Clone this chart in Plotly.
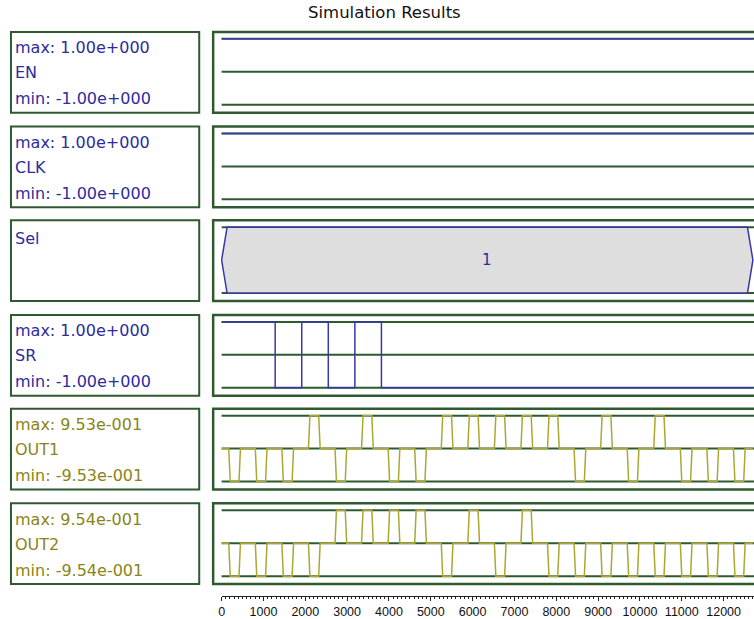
import plotly.graph_objects as go

# ---------------- data ----------------
title_text = "Simulation Results"
signal_names = ["EN", "CLK", "Sel", "SR", "OUT1", "OUT2"]
max_labels = ["max: 1.00e+000", "max: 1.00e+000", None, "max: 1.00e+000", "max: 9.53e-001", "max: 9.54e-001"]
min_labels = ["min: -1.00e+000", "min: -1.00e+000", None, "min: -1.00e+000", "min: -9.53e-001", "min: -9.54e-001"]
signal_max = [1.0, 1.0, 1.0, 1.0, 0.953, 0.954]

sim_end = 12700

en_times = [0, 12700]
en_values = [1, 1]

clk_times = [0, 12700]
clk_values = [1, 1]

sel_times = [0, 12700]
sel_values = ["1"]

sr_times = [0, 1280, 1915, 2550, 3185, 3820, 12700]
sr_values = [1, -1, 1, -1, 1, -1, -1]

pulse_starts = [170, 805, 1440, 2075, 2710, 3345, 3980, 4615, 5250, 5885,
                6520, 7155, 7790, 8425, 9060, 9695, 10330, 10965, 11600, 12235]
pulse_width = 280
pulse_edge = 35
out1_polarity = [-1, -1, -1, 1, -1, 1, -1, -1, 1, 1, 1, 1, 1, -1, 1, -1, 1, -1, -1, -1]
out2_polarity = [-1, -1, -1, -1, 1, 1, 1, 1, -1, 1, -1, 1, -1, -1, -1, -1, -1, -1, -1, -1]

tick_values = list(range(0, 13000, 1000))
tick_labels = [str(v) for v in tick_values]

# ---------------- style / layout ----------------
W, H = 754, 619
GREEN = "#2f5a2f"
BLUE = "#3838aa"
BLUE_TXT = "#2c2c9c"
OLIVE = "#aaa832"
OLIVE_TXT = "#8a8416"
GRAY = "#dedede"
LABEL_FONT = "DejaVu Sans"

box_tops = [32, 127, 221, 316, 410, 505]
box_h = 81
px_per_unit = 0.042
x0_px = 219.5


def py(p):
    return 1 - p / H


def px(p):
    return p / W


x_range = [(212 - x0_px) / px_per_unit, (W - x0_px) / px_per_unit]

fig = go.Figure()
shapes = []
annotations = []
layout_axes = {}

for i, name in enumerate(signal_names):
    r = i + 1
    top = box_tops[i]
    m = signal_max[i]
    top_line = top + 7
    bot_line = top + 73
    upp = 2 * m / (bot_line - top_line)
    y_lo = -m - ((top + 79) - bot_line) * upp
    y_hi = m + (top_line - (top + 2)) * upp
    xa = "xaxis" if r == 1 else f"xaxis{r}"
    ya = "yaxis" if r == 1 else f"yaxis{r}"
    xr = "x" if r == 1 else f"x{r}"
    yr = "y" if r == 1 else f"y{r}"
    layout_axes[xa] = dict(domain=[px(212), 1], range=x_range, visible=False,
                           anchor=yr, fixedrange=True)
    layout_axes[ya] = dict(domain=[py(top + 79), py(top + 2)], range=[y_lo, y_hi],
                           visible=False, anchor=xr, fixedrange=True)

    # frames
    shapes.append(dict(type="rect", xref="paper", yref="paper",
                       x0=px(8), x1=px(197), y0=py(top + box_h), y1=py(top),
                       line=dict(color=GREEN, width=2), layer="below"))
    shapes.append(dict(type="rect", xref="paper", yref="paper",
                       x0=px(211), x1=px(780), y0=py(top + box_h), y1=py(top),
                       line=dict(color=GREEN, width=2.5), layer="below"))

    # reference lines
    levels = [m, -m] if name == "Sel" else [m, 0, -m]
    for lv in levels:
        shapes.append(dict(type="line", xref=xr, yref=yr, x0=0, x1=x_range[1],
                           y0=lv, y1=lv, line=dict(color=GREEN, width=2), layer="below"))

    txt_color = OLIVE_TXT if name.startswith("OUT") else BLUE_TXT
    if name == "Sel":
        annotations.append(dict(xref="paper", yref="paper", x=px(10), y=py(top + 18),
                                text=name, showarrow=False, xanchor="left", yanchor="middle",
                                font=dict(family=LABEL_FONT, size=16, color=txt_color)))
    else:
        for txt, off in [(max_labels[i], 16), (name, 41), (min_labels[i], 67)]:
            annotations.append(dict(xref="paper", yref="paper", x=px(10), y=py(top + off),
                                    text=txt, showarrow=False, xanchor="left", yanchor="middle",
                                    font=dict(family=LABEL_FONT, size=16, color=txt_color)))

    # signals
    if name in ("EN", "CLK", "SR"):
        t = {"EN": en_times, "CLK": clk_times, "SR": sr_times}[name]
        v = {"EN": en_values, "CLK": clk_values, "SR": sr_values}[name]
        vv = list(v[:len(t) - 1]) + [v[len(t) - 2]]
        fig.add_trace(go.Scatter(x=t, y=vv, mode="lines", line=dict(color=BLUE, width=1.5, shape="hv"),
                                 xaxis=xr, yaxis=yr, hoverinfo="skip"))
    elif name == "Sel":
        s0, s1 = sel_times
        slant = 130
        hx = [s0, s0 + slant, s1 - slant, s1, s1 - slant, s0 + slant, s0]
        hy = [0, m, m, 0, -m, -m, 0]
        fig.add_trace(go.Scatter(x=hx, y=hy, mode="lines", fill="toself", fillcolor=GRAY,
                                 line=dict(color=BLUE, width=1.5), xaxis=xr, yaxis=yr,
                                 hoverinfo="skip"))
        annotations.append(dict(xref=xr, yref=yr, x=(s0 + s1) / 2, y=0, text=sel_values[0],
                                showarrow=False, font=dict(family=LABEL_FONT, size=15, color=BLUE_TXT)))
    else:
        pol = out1_polarity if name == "OUT1" else out2_polarity
        xs, ys = [0], [0]
        for ts, p in zip(pulse_starts, pol):
            xs += [ts, ts + pulse_edge, ts + pulse_width - pulse_edge, ts + pulse_width]
            ys += [0, p * m, p * m, 0]
        xs.append(sim_end)
        ys.append(0)
        fig.add_trace(go.Scatter(x=xs, y=ys, mode="lines", line=dict(color=OLIVE, width=1.5),
                                 xaxis=xr, yaxis=yr, hoverinfo="skip"))

# time ruler
layout_axes["xaxis7"] = dict(domain=[px(x0_px), 1], range=[0, (W - x0_px) / px_per_unit],
                             anchor="y7", showline=True, linecolor="#222", linewidth=1,
                             ticks="outside", ticklen=4, tickwidth=1, tickcolor="#222",
                             tickvals=tick_values, ticktext=tick_labels,
                             minor=dict(dtick=100, tick0=0, ticks="outside", ticklen=2,
                                        tickcolor="#222", tickwidth=1),
                             tickfont=dict(family="Liberation Sans", size=12.5, color="#111"),
                             showgrid=False, zeroline=False, fixedrange=True)
layout_axes["yaxis7"] = dict(domain=[py(598), py(596.5)], range=[0, 1], visible=False,
                             anchor="x7", fixedrange=True)
fig.add_trace(go.Scatter(x=[0], y=[0], mode="markers", marker=dict(opacity=0),
                         xaxis="x7", yaxis="y7", hoverinfo="skip"))

annotations.append(dict(xref="paper", yref="paper", x=px(383), y=py(13), text=title_text,
                        showarrow=False, xanchor="center", yanchor="middle",
                        font=dict(family=LABEL_FONT, size=16.5, color="#111")))

fig.update_layout(width=W, height=H, margin=dict(l=0, r=0, t=0, b=0),
                  paper_bgcolor="white", plot_bgcolor="rgba(0,0,0,0)",
                  showlegend=False, shapes=shapes, annotations=annotations, **layout_axes)

fig.write_html("out.html", config={"displayModeBar": False, "staticPlot": True},
               post_script="document.body.style.margin='0';document.body.style.overflow='hidden';")
